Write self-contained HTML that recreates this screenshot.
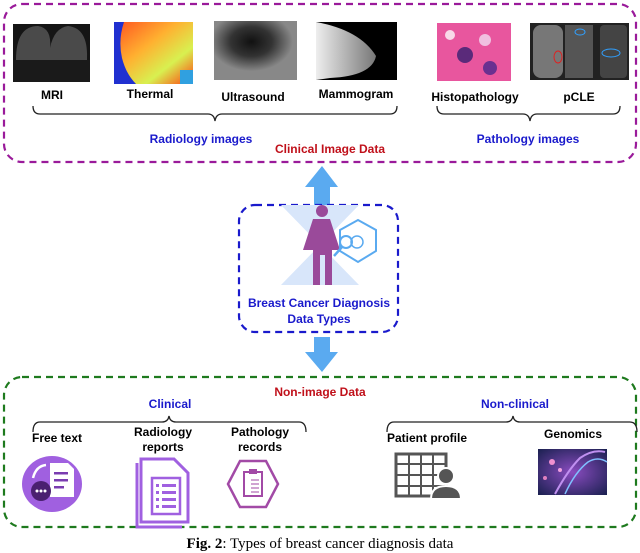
<!DOCTYPE html>
<html><head><meta charset="utf-8"><style>
body{margin:0;background:#fff}
svg{display:block;font-family:"Liberation Sans",Arial,sans-serif}
.b{font-weight:bold;font-size:12px;fill:#000}
.bl{font-weight:bold;font-size:12px;fill:#1a1acc}
.rd{font-weight:bold;font-size:12px;fill:#c0101a}
</style></head><body>
<svg width="640" height="553" viewBox="0 0 640 553">
<defs>
<linearGradient id="th" x1="0" x2="1" y1="0" y2="1"><stop offset="0" stop-color="#ff5020"/><stop offset=".4" stop-color="#ffb030"/><stop offset=".7" stop-color="#d8f050"/><stop offset="1" stop-color="#ff4010"/></linearGradient>
<radialGradient id="us" cx=".45" cy=".35" r=".5"><stop offset="0" stop-color="#111"/><stop offset=".5" stop-color="#333"/><stop offset="1" stop-color="#888"/></radialGradient>
<linearGradient id="mm" x1="0" x2="1"><stop offset="0" stop-color="#eee"/><stop offset="1" stop-color="#777"/></linearGradient>
<radialGradient id="gn" cx=".5" cy=".5" r=".7"><stop offset="0" stop-color="#8a4cc0"/><stop offset="1" stop-color="#1a2050"/></radialGradient>
</defs>
<rect x="4" y="4" width="632" height="158" rx="18" fill="none" stroke="#9a1a9a" stroke-width="2.2" stroke-dasharray="7,5"/>
<rect x="13" y="24" width="77" height="58" fill="#151515"/>
<path d="M16 60 Q16 26 38 26 Q52 28 50 48 Q54 28 68 26 Q88 28 87 58 L87 60 Z" fill="#4a4a4a"/>
<rect x="13" y="60" width="77" height="22" fill="#1a1a1a"/>
<rect x="114" y="22" width="79" height="62" fill="url(#th)"/>
<path d="M114 22 L124 22 Q118 40 122 58 Q126 74 136 84 L114 84 Z" fill="#2030d0"/>
<rect x="180" y="70" width="13" height="14" fill="#30a0e0"/>
<rect x="214" y="21" width="83" height="59" fill="url(#us)"/>
<rect x="316" y="22" width="81" height="58" fill="#000"/>
<path d="M316 22 Q360 30 376 56 Q372 76 330 78 L316 80 Z" fill="url(#mm)"/>
<rect x="437" y="23" width="74" height="58" fill="#e8569e"/>
<circle cx="465" cy="55" r="8" fill="#5a2a7a"/><circle cx="490" cy="68" r="7" fill="#6a3090"/><circle cx="450" cy="35" r="5" fill="#f8d8e8"/><circle cx="485" cy="40" r="6" fill="#f0c0e0"/>
<rect x="530" y="23" width="99" height="57" fill="#222"/>
<rect x="533" y="25" width="30" height="53" rx="8" fill="#777"/><rect x="565" y="25" width="28" height="53" fill="#555"/><rect x="600" y="25" width="27" height="53" rx="4" fill="#444"/>
<ellipse cx="558" cy="57" rx="4" ry="6" fill="none" stroke="#e02020"/><ellipse cx="580" cy="32" rx="5" ry="3" fill="none" stroke="#30a0ff"/><ellipse cx="611" cy="53" rx="9" ry="4" fill="none" stroke="#30a0ff"/>
<text class="b" x="52" y="99" text-anchor="middle">MRI</text>
<text class="b" x="150" y="98" text-anchor="middle">Thermal</text>
<text class="b" x="253" y="101" text-anchor="middle">Ultrasound</text>
<text class="b" x="356" y="98" text-anchor="middle">Mammogram</text>
<text class="b" x="475" y="101" text-anchor="middle">Histopathology</text>
<text class="b" x="579" y="101" text-anchor="middle">pCLE</text>
<path d="M33 106 Q33 114 40 114 L208 114 Q214 114 215 121 Q216 114 222 114 L390 114 Q397 114 397 106" fill="none" stroke="#222" stroke-width="1.3"/>
<path d="M437 106 Q437 114 444 114 L523 114 Q529 114 530 121 Q531 114 537 114 L613 114 Q620 114 620 106" fill="none" stroke="#222" stroke-width="1.3"/>
<text class="bl" x="201" y="143" text-anchor="middle">Radiology images</text>
<text class="rd" x="330" y="153" text-anchor="middle">Clinical Image Data</text>
<text class="bl" x="528" y="143" text-anchor="middle">Pathology images</text>
<path d="M305 187 L322 166 L338 187 L330 187 L330 206 L314 206 L314 187 Z" fill="#5aaaf0"/>
<path d="M314 337 L330 337 L330 352 L338 352 L322 372 L305 352 L314 352 Z" fill="#5aaaf0"/>
<rect x="239" y="205" width="159" height="127" rx="16" fill="none" stroke="#1a1acc" stroke-width="2.2" stroke-dasharray="7,5"/>
<path d="M281 205 L359 205 L320 245 L359 285 L281 285 L320 245 Z" fill="#d8e6fa"/>
<circle cx="322" cy="211" r="6" fill="#9a4a9a"/>
<path d="M313 219 L330 219 L340 250 L332 250 L332 285 L325 285 L325 255 L320 255 L320 285 L313 285 L313 250 L303 250 Z" fill="#9a4a9a"/>
<path d="M340 230 L358 220 L376 230 L376 251 L358 262 L340 251 Z" fill="#fff" stroke="#5aaaf0" stroke-width="2"/>
<circle cx="346" cy="242" r="6" fill="none" stroke="#5aaaf0" stroke-width="2"/><circle cx="357" cy="242" r="6" fill="none" stroke="#5aaaf0" stroke-width="1.5"/>
<line x1="342" y1="247" x2="334" y2="256" stroke="#5aaaf0" stroke-width="2.5"/>
<text class="bl" x="319" y="307" text-anchor="middle">Breast Cancer Diagnosis</text>
<text class="bl" x="319" y="323" text-anchor="middle">Data Types</text>
<rect x="4" y="377" width="632" height="150" rx="18" fill="none" stroke="#1e7a1e" stroke-width="2.2" stroke-dasharray="7,5"/>
<text class="rd" x="320" y="396" text-anchor="middle">Non-image Data</text>
<text class="bl" x="170" y="408" text-anchor="middle">Clinical</text>
<text class="bl" x="515" y="408" text-anchor="middle">Non-clinical</text>
<path d="M33 432 Q33 422 40 422 L162 422 Q168 422 169 416 Q170 422 176 422 L299 422 Q306 422 306 432" fill="none" stroke="#222" stroke-width="1.3"/>
<path d="M387 432 Q387 422 394 422 L506 422 Q512 422 513 416 Q514 422 520 422 L630 422 Q637 422 637 432" fill="none" stroke="#222" stroke-width="1.3"/>
<text class="b" x="57" y="442" text-anchor="middle">Free text</text>
<text class="b" x="163" y="436" text-anchor="middle">Radiology</text>
<text class="b" x="163" y="451" text-anchor="middle">reports</text>
<text class="b" x="260" y="436" text-anchor="middle">Pathology</text>
<text class="b" x="260" y="451" text-anchor="middle">records</text>
<text class="b" x="427" y="442" text-anchor="middle">Patient profile</text>
<text class="b" x="573" y="438" text-anchor="middle">Genomics</text>
<ellipse cx="52" cy="484" rx="30" ry="28" fill="#a060e0"/>
<path d="M50 463 L68 463 L74 469 L74 497 L50 497 Z" fill="#fff"/>
<rect x="54" y="472" width="14" height="2.5" fill="#7a3cb0"/><rect x="54" y="479" width="14" height="2.5" fill="#7a3cb0"/><rect x="54" y="486" width="10" height="2.5" fill="#7a3cb0"/>
<circle cx="41" cy="491" r="10" fill="#4a2070"/>
<path d="M33 478 Q36 466 46 465" fill="none" stroke="#fff" stroke-width="2.5"/>
<circle cx="37" cy="491" r="1.5" fill="#fff"/><circle cx="41" cy="491" r="1.5" fill="#fff"/><circle cx="45" cy="491" r="1.5" fill="#fff"/>
<path d="M137 463 L137 527 L182 527" fill="none" stroke="#a060e0" stroke-width="3"/>
<path d="M141 459 L174 459 L188 473 L188 522 L141 522 Z" fill="#fff" stroke="#a060e0" stroke-width="3"/>
<rect x="152" y="478" width="28" height="36" fill="none" stroke="#a060e0" stroke-width="2.5"/>
<g fill="#a060e0"><rect x="156" y="484" width="3" height="3"/><rect x="162" y="484" width="14" height="3"/><rect x="156" y="491" width="3" height="3"/><rect x="162" y="491" width="14" height="3"/><rect x="156" y="498" width="3" height="3"/><rect x="162" y="498" width="14" height="3"/><rect x="156" y="505" width="3" height="3"/><rect x="162" y="505" width="14" height="3"/></g>
<path d="M240 461 L266 461 L278 484 L266 507 L240 507 L228 484 Z" fill="none" stroke="#a24aa6" stroke-width="2.5"/>
<rect x="244" y="472" width="18" height="24" fill="none" stroke="#a24aa6" stroke-width="2"/>
<rect x="249" y="469" width="8" height="5" fill="#a24aa6"/>
<g stroke="#a24aa6" stroke-width="1"><line x1="251" y1="480" x2="259" y2="480"/><line x1="251" y1="484" x2="259" y2="484"/><line x1="251" y1="488" x2="259" y2="488"/><line x1="251" y1="492" x2="259" y2="492"/></g>
<rect x="396" y="454" width="50" height="42" fill="none" stroke="#555" stroke-width="3"/>
<line x1="396" y1="464" x2="446" y2="464" stroke="#555" stroke-width="2"/><line x1="396" y1="475" x2="446" y2="475" stroke="#555" stroke-width="2"/><line x1="396" y1="486" x2="446" y2="486" stroke="#555" stroke-width="2"/>
<line x1="409" y1="454" x2="409" y2="496" stroke="#555" stroke-width="2"/><line x1="421" y1="454" x2="421" y2="496" stroke="#555" stroke-width="2"/><line x1="433" y1="454" x2="433" y2="496" stroke="#555" stroke-width="2"/>
<circle cx="446" cy="476" r="8" fill="#555" stroke="#fff" stroke-width="2"/>
<path d="M431 499 Q431 486 446 486 Q461 486 461 499 Z" fill="#555" stroke="#fff" stroke-width="2"/>
<rect x="538" y="449" width="69" height="46" fill="url(#gn)"/>
<path d="M555 494 Q568 470 580 458 Q593 449 605 452" fill="none" stroke="#c090f0" stroke-width="2"/>
<path d="M565 494 Q575 472 588 462 Q598 456 607 462" fill="none" stroke="#80c0ff" stroke-width="1.5"/>
<circle cx="552" cy="462" r="3" fill="#f090d0"/><circle cx="560" cy="470" r="2" fill="#f0a0e0"/><circle cx="545" cy="478" r="2" fill="#e080c0"/>
<text x="320" y="548" text-anchor="middle" font-family="'Liberation Serif',serif" font-size="15"><tspan font-weight="bold">Fig. 2</tspan>: Types of breast cancer diagnosis data</text>
</svg>
</body></html>
